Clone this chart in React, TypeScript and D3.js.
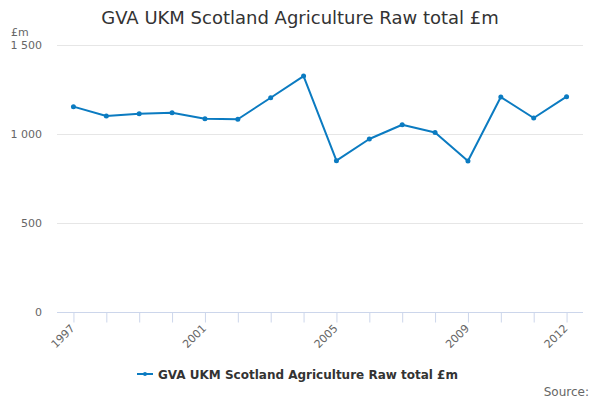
import React, { useRef, useEffect } from 'react';
import * as d3 from 'd3';

const years = ['1997', '1998', '1999', '2000', '2001', '2002', '2003', '2004', '2005', '2006', '2007', '2008', '2009', '2010', '2011', '2012'];
const values = [1153, 1100, 1113, 1119, 1085, 1082, 1203, 1325, 849, 971, 1051, 1008, 847, 1207, 1089, 1209];
const shownYears = ['1997', '2001', '2005', '2009', '2012'];
const yTicks = [0, 500, 1000, 1500];
const seriesName = 'GVA UKM Scotland Agriculture Raw total £m';

const App: React.FC = () => {
  const chartRef = useRef<SVGSVGElement | null>(null);

  useEffect(() => {
    if (!chartRef.current) return;
    const width = 600;
    const height = 400;
    const font = '"DejaVu Sans", sans-serif';
    const lineColor = '#0b7bc1';

    const svg = d3.select(chartRef.current);
    svg.selectAll('*').remove();
    svg.attr('width', width).attr('height', height);

    const xScale = d3.scalePoint<string>().domain(years).range([57, 583]).padding(0.5);
    const yScale = d3.scaleLinear().domain([0, 1500]).range([311.5, 45]);

    // title
    svg
      .append('text')
      .attr('x', 300)
      .attr('y', 24)
      .attr('text-anchor', 'middle')
      .style('font-family', font)
      .style('font-size', '18px')
      .style('fill', '#333')
      .text(seriesName);

    // unit label
    svg
      .append('text')
      .attr('x', 11)
      .attr('y', 36)
      .style('font-family', font)
      .style('font-size', '11px')
      .style('fill', '#666')
      .text('£m');

    // gridlines
    svg
      .append('g')
      .selectAll('line')
      .data(yTicks.filter((t) => t > 0))
      .enter()
      .append('line')
      .attr('x1', 57)
      .attr('x2', 583)
      .attr('y1', (d) => Math.round(yScale(d)) + 0.5)
      .attr('y2', (d) => Math.round(yScale(d)) + 0.5)
      .attr('stroke', '#e6e6e6')
      .attr('stroke-width', 1);

    // y labels
    const fmt = (d: number) => d3.format(',')(d).replace(',', ' ');
    svg
      .append('g')
      .selectAll('text')
      .data(yTicks)
      .enter()
      .append('text')
      .attr('x', 42)
      .attr('y', (d) => yScale(d) + 4)
      .attr('text-anchor', 'end')
      .style('font-family', font)
      .style('font-size', '11px')
      .style('fill', '#666')
      .text((d) => fmt(d));

    // x axis
    const xAxis = d3.axisBottom(xScale).tickSize(10).tickFormat(() => '');
    const axisG = svg.append('g').attr('transform', `translate(0, ${Math.round(yScale(0)) + 0.5})`).call(xAxis);
    axisG.select('.domain').attr('stroke', '#ccd6eb').attr('d', 'M57,0H583');
    axisG.selectAll('.tick line').attr('stroke', '#ccd6eb');

    svg
      .append('g')
      .selectAll('text')
      .data(shownYears)
      .enter()
      .append('text')
      .attr('transform', (d) => `translate(${(xScale(d) ?? 0) + 2}, ${329}) rotate(-45)`)
      .attr('text-anchor', 'end')
      .style('font-family', font)
      .style('font-size', '11px')
      .style('fill', '#666')
      .text((d) => d);

    // line
    const line = d3
      .line<number>()
      .x((d, i) => xScale(years[i]) ?? 0)
      .y((d) => yScale(d));

    svg
      .append('path')
      .datum(values)
      .attr('d', line)
      .attr('fill', 'none')
      .attr('stroke', lineColor)
      .attr('stroke-width', 2)
      .attr('stroke-linejoin', 'round');

    svg
      .append('g')
      .selectAll('circle')
      .data(values)
      .enter()
      .append('circle')
      .attr('cx', (d, i) => xScale(years[i]) ?? 0)
      .attr('cy', (d) => yScale(d))
      .attr('r', 2.5)
      .attr('fill', lineColor);

    // legend
    const legend = svg.append('g').attr('transform', 'translate(137, 374)');
    legend.append('line').attr('x1', 0).attr('x2', 16).attr('y1', 0).attr('y2', 0).attr('stroke', lineColor).attr('stroke-width', 2);
    legend.append('circle').attr('cx', 8).attr('cy', 0).attr('r', 2).attr('fill', lineColor);
    legend
      .append('text')
      .attr('x', 21)
      .attr('y', 4.5)
      .style('font-family', font)
      .style('font-size', '12px')
      .style('font-weight', 'bold')
      .style('fill', '#333')
      .text(seriesName);

    // source
    svg
      .append('text')
      .attr('x', 589)
      .attr('y', 396)
      .attr('text-anchor', 'end')
      .style('font-family', font)
      .style('font-size', '12px')
      .style('fill', '#666')
      .text('Source:');
  }, []);

  return <svg ref={chartRef} style={{ position: 'absolute', left: 0, top: 0 }}></svg>;
};

export default App;
